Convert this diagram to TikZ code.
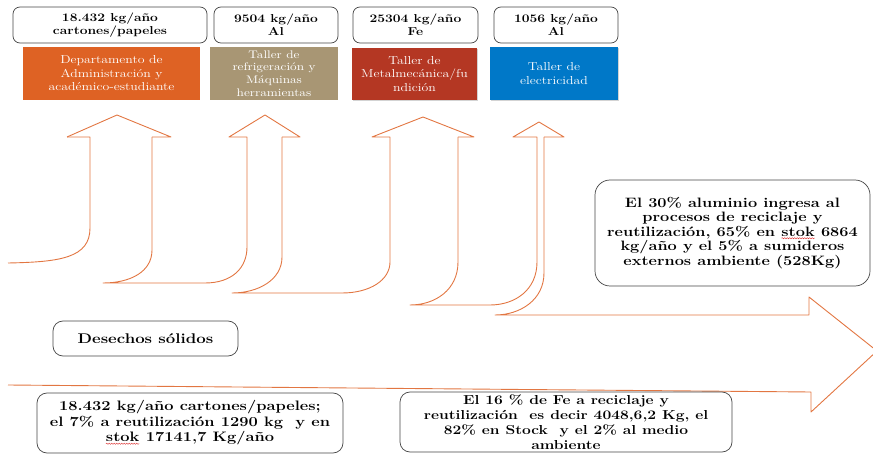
\documentclass[tikz,border=0pt]{standalone}
\usepackage{fontspec}
\setmainfont{Latin Modern Roman}[FakeStretch=1.2]
\usetikzlibrary{shadows,decorations.pathmorphing}

\definecolor{flowc}{RGB}{226,118,66}
\definecolor{boxgray}{RGB}{70,70,70}
\definecolor{admorange}{RGB}{222,98,36}
\definecolor{reftan}{RGB}{168,150,116}
\definecolor{metred}{RGB}{180,55,35}
\definecolor{eleblue}{RGB}{0,120,200}
\definecolor{spellred}{RGB}{220,40,40}

% wavy spell-check underline under a word
\newcommand\spellwave[1]{\tikz[baseline=(sw.base)]{\node[shape=rectangle, draw=none, fill=none,
    inner sep=0pt, outer sep=0pt, minimum width=0pt, minimum height=0pt] (sw) {#1};
  \draw[spellred, line width=0.4pt, rounded corners=0pt, decorate,
    decoration={snake, amplitude=0.6pt, segment length=2.5pt}]
    ([yshift=-1.8pt]sw.base west) -- ([yshift=-1.8pt]sw.base east);}}

\begin{document}
\begin{tikzpicture}[x=1pt,y=-1pt,
  flow/.style={draw=flowc, line width=0.9pt, line join=round},
  tagbox/.style={draw=boxgray, line width=0.7pt, rounded corners=7pt, fill=white,
    align=center, inner sep=0pt, font=\fontsize{11.5}{13}\selectfont\bfseries},
  unitbox/.style={align=center, text=white, inner sep=0pt,
    font=\fontsize{11.5}{13.5}\selectfont},
  notebox/.style={draw=boxgray, line width=0.7pt, rounded corners=10pt, fill=white,
    align=center, inner sep=0pt, font=\fontsize{13}{15}\selectfont\bfseries}]

\useasboundingbox (0,0) rectangle (873,454);

% ---- up arrows branching from the main flow ----
% arrow 1
\draw[flow] (67,137) -- (117,115) -- (171,137) -- (152,137);
\draw[flow] (67,137) -- (90,137) -- (90,228) .. controls (90,258) and (60,262) .. (8,263);
\draw[flow] (152,137) -- (152,250) .. controls (152,272) and (130,283) .. (103,283)
  -- (205,283) .. controls (232,283) and (247,268) .. (247,247) -- (247,137) -- (229,137)
  -- (265,115) -- (300,137) -- (282,137);
% arrow 2 -> arrow 3
\draw[flow] (282,137) -- (282,257) .. controls (282,280) and (258,293) .. (232,293)
  -- (342,293) .. controls (370,293) and (390,280) .. (390,262) -- (390,137) -- (372,137)
  -- (423,117) -- (474,137) -- (458,137);
% arrow 3 -> arrow 4
\draw[flow] (458,137) -- (458,262) .. controls (458,290) and (435,305) .. (410,305)
  -- (490,305) .. controls (515,305) and (537,290) .. (537,262) -- (537,137) -- (513,137)
  -- (539,122) -- (564,137) -- (544,137);
% arrow 4 -> main horizontal arrow
\draw[flow] (544,137) -- (544,273) .. controls (544,300) and (520,315) .. (495,315)
  -- (809,315) -- (809,297) -- (877,351) -- (811,412) -- (811,392) -- (8,385);

% ---- weight tags ----
\node[tagbox, minimum width=194pt, minimum height=36pt] (tagA) at (110,25) {18.432 kg/año\\cartones/papeles};
\node[tagbox, minimum width=124pt, minimum height=36pt] (tagB) at (276,25) {9504 kg/año\\Al};
\node[tagbox, minimum width=125pt, minimum height=36pt] (tagC) at (415.5,25) {25304 kg/año\\Fe};
\node[tagbox, minimum width=124pt, minimum height=36pt] (tagD) at (556,25) {1056 kg/año\\Al};

% ---- units ----
\node[unitbox, fill=admorange, minimum width=177pt, minimum height=53pt] (adm) at (111.5,73.5)
  {Departamento de\\Administración y\\académico-estudiante};
\node[unitbox, fill=reftan, minimum width=128pt, minimum height=53pt,
  font=\fontsize{11}{12.6}\selectfont] (ref) at (274,73.5)
  {Taller de\\refrigeración y\\Máquinas\\herramientas};
\node[unitbox, fill=metred, minimum width=125pt, minimum height=52pt,
  drop shadow={opacity=0.35, shadow xshift=1pt, shadow yshift=-1.5pt}] (met) at (414.5,74)
  {Taller de\\Metalmecánica/fu\\ndición};
\node[unitbox, fill=eleblue, minimum width=128pt, minimum height=53pt,
  drop shadow={opacity=0.35, shadow xshift=1pt, shadow yshift=-1.5pt}] (ele) at (554,73.5)
  {Taller de\\electricidad};

% ---- notes ----
\node[notebox, rounded corners=15pt, minimum width=275pt, minimum height=106pt,
  font=\fontsize{13.6}{14.6}\selectfont\bfseries] (alnote) at (732.5,233)
  {El 30\% aluminio ingresa al\\procesos de reciclaje y\\reutilización, 65\% en \spellwave{stok} 6864\\kg/año y el 5\% a sumideros\\externos ambiente (528Kg)};
\node[notebox, minimum width=185pt, minimum height=35pt,
  font=\fontsize{14}{15}\selectfont\bfseries] (waste) at (145.5,338.5)
  {Desechos sólidos};
\node[notebox, minimum width=306pt, minimum height=60pt,
  font=\fontsize{13.7}{15.5}\selectfont\bfseries] (papnote) at (190,423)
  {18.432 kg/año cartones/papeles;\\el 7\% a reutilización 1290 kg\ \ y en\\\spellwave{stok} 17141,7 Kg/año};
\node[notebox, minimum width=332pt, minimum height=60pt] (fenote) at (566,422)
  {El 16 \% de Fe a reciclaje y\\reutilización\ \ es decir 4048,6,2 Kg, el\\82\% en Stock\ \ y el 2\% al medio\\ambiente};
\end{tikzpicture}
\end{document}
